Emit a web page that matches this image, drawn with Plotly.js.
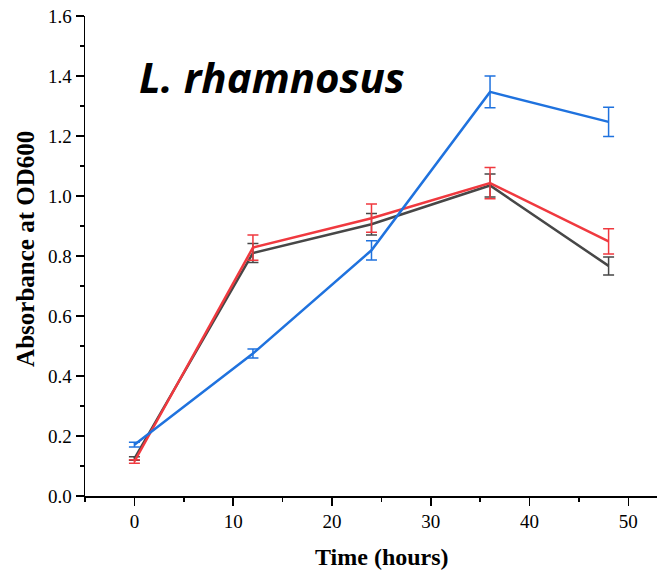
<!DOCTYPE html>
<html>
<head>
<meta charset="utf-8">
<script src="https://cdn.plot.ly/plotly-3.0.1.min.js"></script>
<style>html,body{margin:0;padding:0;background:#fff;}#chart{width:657px;height:574px;}</style>
</head>
<body>
<div id="chart"></div>
<script>
const timeHours = [0, 12, 24, 36, 48];
const grayValues = [0.125, 0.81, 0.906, 1.035, 0.767];
const grayErrors = [0.006, 0.032, 0.036, 0.038, 0.03];
const redValues = [0.115, 0.828, 0.926, 1.043, 0.849];
const redErrors = [0.006, 0.042, 0.047, 0.052, 0.042];
const blueValues = [0.171, 0.475, 0.819, 1.347, 1.247];
const blueErrors = [0.008, 0.015, 0.032, 0.053, 0.049];
const xTickVals = [0, 10, 20, 30, 40, 50];
const xTickText = ['0', '10', '20', '30', '40', '50'];
const yTickVals = [0, 0.2, 0.4, 0.6, 0.8, 1.0, 1.2, 1.4, 1.6];
const yTickText = ['0.0', '0.2', '0.4', '0.6', '0.8', '1.0', '1.2', '1.4', '1.6'];
const chartTitle = "L. rhamnosus";
const xTitle = "Time (hours)";
const yTitle = "Absorbance at OD600";

function series(y, err, color) {
  return {
    x: timeHours, y: y, type: 'scatter', mode: 'lines',
    line: {color: color, width: 2.5},
    error_y: {type: 'data', array: err, visible: true, color: color, thickness: 1.5, width: 5.5},
    hoverinfo: 'skip', showlegend: false
  };
}

const data = [
  series(grayValues, grayErrors, '#474747'),
  series(redValues, redErrors, '#f0393f'),
  series(blueValues, blueErrors, '#1f72de')
];

const serif = 'Liberation Serif, Times New Roman, serif';
const tickFont = {family: serif, size: 19, color: '#000'};
const layout = {
  width: 657, height: 574,
  margin: {l: 85, r: 0, t: 16, b: 78},
  paper_bgcolor: '#fff', plot_bgcolor: '#fff',
  showlegend: false,
  xaxis: {
    range: [-5, 52.9], tickvals: xTickVals, ticktext: xTickText,
    ticks: 'outside', ticklen: 8, tickwidth: 1.5, tickcolor: '#000',
    minor: {tickvals: [-5, 5, 15, 25, 35, 45], ticks: 'outside', ticklen: 4, tickwidth: 1.5, tickcolor: '#000'},
    showline: true, linecolor: '#000', linewidth: 1.5, showgrid: false, zeroline: false,
    tickfont: tickFont, automargin: false
  },
  yaxis: {
    range: [0, 1.6], tickvals: yTickVals, ticktext: yTickText,
    ticks: 'outside', ticklen: 8, tickwidth: 1.5, tickcolor: '#000',
    minor: {tickvals: [0.1, 0.3, 0.5, 0.7, 0.9, 1.1, 1.3, 1.5], ticks: 'outside', ticklen: 4, tickwidth: 1.5, tickcolor: '#000'},
    showline: true, linecolor: '#000', linewidth: 1.5, showgrid: false, zeroline: false,
    tickfont: tickFont, automargin: false
  },
  annotations: [
    {
      text: chartTitle, xref: 'paper', yref: 'paper', x: 0.327, y: 0.875,
      xanchor: 'center', yanchor: 'middle', showarrow: false,
      font: {family: 'Open Sans, sans-serif', size: 42, color: '#000', weight: 'bold', style: 'italic'}
    },
    {
      text: xTitle, xref: 'paper', yref: 'paper', x: 0.52, y: -0.127,
      xanchor: 'center', yanchor: 'middle', showarrow: false,
      font: {family: serif, size: 24, color: '#000', weight: 'bold'}
    },
    {
      text: yTitle, xref: 'paper', yref: 'paper', x: -0.103, y: 0.515, textangle: -90,
      xanchor: 'center', yanchor: 'middle', showarrow: false,
      font: {family: serif, size: 25, color: '#000', weight: 'bold'}
    }
  ]
};

Plotly.newPlot('chart', data, layout, {displayModeBar: false, staticPlot: true});
</script>
</body>
</html>
